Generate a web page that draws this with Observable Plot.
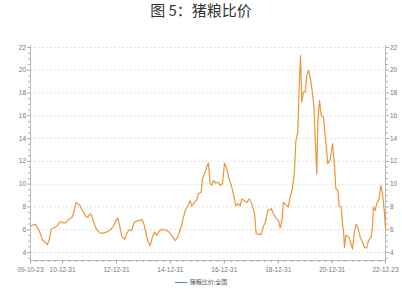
<!DOCTYPE html>
<html>
<head>
<meta charset="utf-8">
<script src="https://cdn.jsdelivr.net/npm/d3@7"></script>
<script src="https://cdn.jsdelivr.net/npm/@observablehq/plot@0.6"></script>
<style>
  html, body { margin: 0; padding: 0; background: #fff; }
  #wrap { position: relative; width: 402px; height: 289px; overflow: hidden; }
  #title { position: absolute; left: 0; top: 0; width: 402px; text-align: center;
           font: 15px "Noto Sans CJK SC", sans-serif; color: #333; line-height: 20px; }
  #legend { position: absolute; left: 0; top: 277px; width: 402px; text-align: center;
            font: 6px "Noto Sans CJK SC", sans-serif; color: #555; line-height: 10px; }
  #legend .sw { display: inline-block; width: 12px; height: 1.5px; background: #4a90c8;
                vertical-align: middle; margin-right: 3px; }
  #chart { position: absolute; left: 0; top: 0; }
</style>
</head>
<body>
<div id="wrap">
  <div id="chart"></div>
  <div id="title">图 5：猪粮比价</div>
  <div id="legend"><span class="sw"></span>猪粮比价:全国</div>
</div>
<script>
const seriesName = "猪粮比价:全国";
const dates = [
"2009-10-23","2009-12-25","2010-01-26","2010-03-03","2010-04-05","2010-05-10","2010-06-10","2010-07-02","2010-07-30","2010-09-13",
"2010-10-27","2010-11-28","2011-01-12","2011-02-13","2011-03-22","2011-05-05","2011-05-27","2011-07-02","2011-08-03","2011-08-25",
"2011-09-16","2011-10-11","2011-11-10","2011-12-07","2012-01-08","2012-01-30","2012-03-06","2012-04-06","2012-05-25","2012-07-08",
"2012-08-22","2012-10-07","2012-11-21","2012-12-22","2013-01-18","2013-02-20","2013-03-13","2013-04-19","2013-05-20","2013-06-21",
"2013-07-26","2013-08-27","2013-10-01","2013-11-02","2013-12-08","2013-12-31","2014-01-31","2014-02-27","2014-04-01","2014-05-02",
"2014-05-29","2014-06-28","2014-07-31","2014-09-04","2014-10-19","2014-12-03","2015-01-18","2015-03-06","2015-04-10","2015-05-12",
"2015-06-03","2015-06-26","2015-07-27","2015-08-23","2015-09-24","2015-10-16","2015-11-21","2015-12-22","2016-01-14","2016-02-20",
"2016-03-10","2016-04-06","2016-05-07","2016-05-30","2016-06-21","2016-07-13","2016-08-06","2016-09-06","2016-10-11","2016-11-05",
"2016-12-06","2017-01-02","2017-02-02","2017-03-07","2017-04-11","2017-05-17","2017-06-03","2017-07-01","2017-08-03","2017-08-25",
"2017-09-30","2017-10-31","2017-12-02","2018-01-07","2018-02-13","2018-03-08","2018-04-08","2018-05-15","2018-06-15","2018-07-08",
"2018-08-12","2018-09-14","2018-09-27","2018-10-28","2018-11-29","2019-01-04","2019-01-27","2019-02-18","2019-03-11","2019-04-11",
"2019-05-17","2019-06-09","2019-07-11","2019-08-07","2019-08-25","2019-09-22","2019-10-11","2019-10-29","2019-11-15","2019-12-08",
"2019-12-31","2020-01-22","2020-02-14","2020-03-08","2020-03-30","2020-04-26","2020-05-15","2020-06-06","2020-06-19","2020-07-12",
"2020-08-04","2020-09-04","2020-10-05","2020-11-01","2020-12-04","2021-01-04","2021-01-31","2021-02-18","2021-03-17","2021-04-05",
"2021-05-01","2021-05-19","2021-06-02","2021-06-15","2021-07-03","2021-08-08","2021-08-31","2021-10-01","2021-10-28","2021-11-20",
"2021-12-12","2022-01-14","2022-02-05","2022-03-13","2022-04-13","2022-05-06","2022-06-12","2022-06-30","2022-07-13","2022-08-05",
"2022-08-27","2022-09-28","2022-10-20","2022-11-12","2022-12-08","2022-12-23"
];
const values = [
6.3,6.5,6.2,5.7,5.1,4.9,4.7,5.05,6.05,6.2,
6.4,6.7,6.6,6.6,6.9,7.05,7.4,8.4,8.2,8.15,
7.8,7.6,7.15,7.1,7.4,7.25,6.5,6.0,5.7,5.7,
5.8,6.0,6.3,6.8,7.05,6.1,5.4,5.15,5.7,6.0,
5.95,6.65,6.75,6.8,6.9,6.65,5.8,5.05,4.6,5.35,
5.8,5.5,5.85,6.05,6.0,5.85,5.5,5.05,5.35,6.0,
6.4,7.1,7.8,8.05,8.55,8.1,8.4,8.6,9.15,9.3,
10.5,10.9,11.5,11.85,10.05,9.9,10.3,10.1,10.15,9.9,
10.05,11.85,11.35,10.4,9.75,8.7,8.1,8.3,8.1,8.7,
8.55,8.4,8.7,8.3,7.4,5.65,5.6,5.6,6.35,6.6,
7.7,7.8,7.85,7.4,7.0,6.8,6.15,6.8,8.4,8.2,
8.0,8.85,9.6,11.05,13.7,14.55,18.7,21.3,17.2,18.1,
18.1,19.55,20.0,19.4,18.4,16.9,14.0,10.9,15.45,17.35,
16.0,15.9,13.7,11.8,12.2,13.55,11.65,9.6,9.45,8.1,
8.0,6.5,5.95,4.45,5.5,5.4,5.05,4.3,5.8,6.5,
6.2,5.35,5.05,4.45,4.4,5.05,5.35,6.2,8.0,7.7,
8.3,8.7,9.9,9.2,7.55,6.1
];
const yTicks = [4,6,8,10,12,14,16,18,20,22];
const xTickLabels = ["2009-10-23","2010-12-31","2012-12-31","2014-12-31","2016-12-31","2018-12-31","2020-12-31","2022-12-23"];

const parse = d3.utcParse("%Y-%m-%d");
const data = dates.map((d, i) => ({date: parse(d), value: values[i], series: seriesName}));
const xStart = parse(xTickLabels[0]);
const xEnd = parse(xTickLabels[xTickLabels.length - 1]);
const yDomain = [3.3, 22.17];
const xMajor = xTickLabels.map(parse);
const xMinor = d3.utcMonth.every(3).range(xStart, xEnd).map(d => d3.utcDay.offset(d, -1)).filter(d => d > xStart);
const yMinor = d3.range(3.5, 22.2, 0.5).filter(v => !yTicks.includes(v));

const axisColor = "#a8a8a8";
const labelColor = "#777";

const chart = Plot.plot({
  width: 402,
  height: 289,
  marginTop: 45,
  marginBottom: 29,
  marginLeft: 30,
  marginRight: 17,
  style: {fontFamily: "'Liberation Sans', Arial, sans-serif", fontSize: "6.5px", color: labelColor, background: "transparent"},
  x: {type: "utc", domain: [xStart, xEnd]},
  y: {domain: yDomain},
  marks: [
    Plot.ruleY(yTicks, {stroke: "#dcdcdc", strokeWidth: 0.8, strokeDasharray: "2,2"}),
    Plot.ruleX([xStart], {stroke: axisColor, strokeWidth: 0.8}),
    Plot.ruleX([xEnd], {stroke: axisColor, strokeWidth: 0.8}),
    Plot.ruleY([yDomain[0]], {stroke: axisColor, strokeWidth: 0.8}),
    Plot.axisY({anchor: "left", ticks: yTicks, tickSize: 3, tickPadding: 1.5, stroke: axisColor, fill: labelColor, label: null}),
    Plot.axisY({anchor: "left", ticks: yMinor, tickSize: 1.8, text: null, stroke: axisColor, label: null}),
    Plot.axisY({anchor: "right", ticks: yTicks, tickSize: 3, tickPadding: 1.5, stroke: axisColor, fill: labelColor, label: null}),
    Plot.axisY({anchor: "right", ticks: yMinor, tickSize: 1.8, text: null, stroke: axisColor, label: null}),
    Plot.axisX({ticks: xMajor, tickSize: 3.5, tickPadding: 3, tickFormat: d3.utcFormat("%y-%m-%d"), stroke: axisColor, fill: labelColor, label: null}),
    Plot.axisX({ticks: xMinor, tickSize: 2, text: null, stroke: axisColor, label: null}),
    Plot.line(data, {x: "date", y: "value", stroke: "#ec9638", strokeWidth: 1.2})
  ]
});
document.getElementById("chart").appendChild(chart);
</script>
</body>
</html>
